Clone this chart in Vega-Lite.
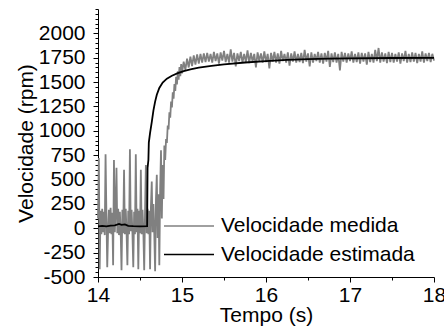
{
"$schema":"https://vega.github.io/schema/vega-lite/v6.json",
"width":336,"height":268,
"autosize":{"type":"none"},
"padding":{"left":98,"top":9,"right":10,"bottom":49},
"background":"white",
"config":{"view":{"stroke":null},"font":"Liberation Sans",
"axis":{"grid":false,"domainColor":"black","tickColor":"black","labelColor":"black","titleColor":"black","titleFontWeight":"normal","labelFontSize":21,"titleFontSize":21,"labelFont":"Liberation Sans","titleFont":"Liberation Sans","labelFlush":false,"labelOverlap":false,"domainWidth":1,"tickWidth":1}},
"layer":[
{"data":{"name":"medida"},"mark":{"type":"line","strokeWidth":1.8},
"encoding":{
"x":{"field":"t","type":"quantitative","scale":{"domain":[14,18],"nice":false,"zero":false},
"axis":{"title":"Tempo (s)","tickCount":100,"values":[14,14.5,15,15.5,16,16.5,17,17.5,18],"labelExpr":"datum.value % 1 === 0 ? '' + datum.value : ''","tickSize":{"condition":{"test":"datum.value % 1 === 0","value":5},"value":3},"labelPadding":2,"titlePadding":-1,"labelOverlap":false,"labelFlush":false}},
"y":{"field":"v","type":"quantitative","scale":{"domain":[-500,2250],"nice":false,"zero":false},
"axis":{"title":"Velocidade (rpm)","tickCount":100,"values":[-500,-450,-400,-350,-300,-250,-200,-150,-100,-50,0,50,100,150,200,250,300,350,400,450,500,550,600,650,700,750,800,850,900,950,1000,1050,1100,1150,1200,1250,1300,1350,1400,1450,1500,1550,1600,1650,1700,1750,1800,1850,1900,1950,2000,2050,2100,2150,2200,2250],"labelExpr":"datum.value % 250 === 0 && datum.value <= 2000 ? '' + datum.value : ''","tickSize":{"condition":{"test":"datum.value % 250 === 0 && datum.value <= 2000","value":5},"value":3},"labelPadding":8,"titlePadding":2,"labelOverlap":false,"labelFlush":false,"labelBound":false}},
"color":{"datum":"Velocidade medida","type":"nominal","scale":{"domain":["Velocidade medida","Velocidade estimada"],"range":["#808080","#000000"]},
"legend":{"orient":"none","legendX":77.5,"legendY":203.5,"title":null,"symbolType":"M-2,0H2","symbolSize":625,"symbolStrokeWidth":1.5,"labelFontSize":21,"labelFont":"Liberation Sans","labelColor":"black","labelLimit":0,"rowPadding":4.5,"labelOffset":18.5,"padding":0}}}},
{"data":{"name":"estimada"},"mark":{"type":"line","strokeWidth":1.8},
"encoding":{
"x":{"field":"t","type":"quantitative"},
"y":{"field":"v","type":"quantitative"},
"color":{"datum":"Velocidade estimada","type":"nominal"}}}
],
"datasets":{
"estimada":[
{"t":14.00,"v":20},{"t":14.05,"v":25},{"t":14.10,"v":20},{"t":14.15,"v":28},{"t":14.20,"v":30},{"t":14.25,"v":45},{"t":14.28,"v":35},{"t":14.32,"v":40},{"t":14.36,"v":25},{"t":14.42,"v":22},{"t":14.50,"v":20},{"t":14.585,"v":22},{"t":14.59,"v":620},{"t":14.60,"v":700},{"t":14.605,"v":880},{"t":14.62,"v":980},{"t":14.64,"v":1090},{"t":14.66,"v":1210},{"t":14.68,"v":1300},{"t":14.70,"v":1370},{"t":14.73,"v":1440},{"t":14.77,"v":1495},{"t":14.82,"v":1535},{"t":14.88,"v":1565},{"t":14.95,"v":1592},{"t":15.02,"v":1612},{"t":15.10,"v":1630},{"t":15.20,"v":1648},{"t":15.35,"v":1666},{"t":15.50,"v":1682},{"t":15.75,"v":1701},{"t":16.00,"v":1716},{"t":16.25,"v":1727},{"t":16.50,"v":1735},{"t":16.75,"v":1740},{"t":17.00,"v":1743},{"t":17.50,"v":1747},{"t":18.00,"v":1749}
],
"medida":[
{"t":14.00,"v":100},{"t":14.01,"v":720},{"t":14.02,"v":-420},{"t":14.03,"v":180},{"t":14.04,"v":-60},{"t":14.05,"v":200},{"t":14.06,"v":-40},{"t":14.07,"v":170},{"t":14.08,"v":-70},{"t":14.09,"v":760},
{"t":14.10,"v":150},{"t":14.11,"v":-400},{"t":14.12,"v":-30},{"t":14.13,"v":190},{"t":14.14,"v":-50},{"t":14.15,"v":210},{"t":14.16,"v":-60},{"t":14.17,"v":160},{"t":14.18,"v":-380},{"t":14.19,"v":700},
{"t":14.20,"v":-40},{"t":14.21,"v":180},{"t":14.22,"v":620},{"t":14.23,"v":-50},{"t":14.24,"v":200},{"t":14.25,"v":-70},{"t":14.26,"v":170},{"t":14.27,"v":-30},{"t":14.28,"v":-430},{"t":14.29,"v":190},
{"t":14.30,"v":-50},{"t":14.31,"v":600},{"t":14.32,"v":-60},{"t":14.33,"v":200},{"t":14.34,"v":-40},{"t":14.35,"v":-380},{"t":14.36,"v":180},{"t":14.37,"v":-60},{"t":14.38,"v":810},{"t":14.39,"v":-30},
{"t":14.40,"v":190},{"t":14.41,"v":-50},{"t":14.42,"v":-400},{"t":14.43,"v":170},{"t":14.44,"v":-60},{"t":14.45,"v":760},{"t":14.46,"v":-40},{"t":14.47,"v":200},{"t":14.48,"v":-420},{"t":14.49,"v":180},
{"t":14.50,"v":-50},{"t":14.51,"v":600},{"t":14.52,"v":-60},{"t":14.53,"v":190},{"t":14.54,"v":-30},{"t":14.55,"v":-430},{"t":14.56,"v":170},{"t":14.57,"v":650},{"t":14.58,"v":-50},{"t":14.59,"v":200},
{"t":14.60,"v":-60},{"t":14.61,"v":180},{"t":14.62,"v":-420},{"t":14.63,"v":220},{"t":14.64,"v":480},{"t":14.65,"v":-40},{"t":14.66,"v":250},{"t":14.67,"v":-60},{"t":14.68,"v":-440},{"t":14.69,"v":300},
{"t":14.70,"v":550},{"t":14.71,"v":-100},{"t":14.72,"v":350},{"t":14.73,"v":-380},{"t":14.74,"v":400},{"t":14.75,"v":800},{"t":14.76,"v":100},{"t":14.77,"v":650},{"t":14.78,"v":300},{"t":14.79,"v":850},
{"t":14.80,"v":700},{"t":14.81,"v":915},{"t":14.82,"v":875},{"t":14.83,"v":1055},{"t":14.84,"v":1015},{"t":14.85,"v":1190},{"t":14.86,"v":1135},{"t":14.87,"v":1300},{"t":14.88,"v":1240},{"t":14.89,"v":1395},
{"t":14.90,"v":1330},{"t":14.91,"v":1480},{"t":14.92,"v":1410},{"t":14.93,"v":1555},{"t":14.94,"v":1475},{"t":14.95,"v":1610},{"t":14.96,"v":1525},{"t":14.97,"v":1655},{"t":14.98,"v":1560},{"t":14.99,"v":1685},
{"t":15.00,"v":1590},{"t":15.02,"v":1710},{"t":15.04,"v":1625},{"t":15.06,"v":1740},{"t":15.08,"v":1650},{"t":15.10,"v":1760},{"t":15.12,"v":1665},{"t":15.14,"v":1775},{"t":15.16,"v":1680},{"t":15.18,"v":1785},
{"t":15.20,"v":1690},{"t":15.22,"v":1790},{"t":15.24,"v":1700},{"t":15.26,"v":1795},{"t":15.28,"v":1705},
{"t":15.30,"v":1800},{"t":15.32,"v":1710},{"t":15.34,"v":1790},{"t":15.36,"v":1700},{"t":15.38,"v":1810},{"t":15.40,"v":1715},{"t":15.42,"v":1795},{"t":15.44,"v":1690},{"t":15.46,"v":1805},{"t":15.48,"v":1720},
{"t":15.50,"v":1820},{"t":15.52,"v":1705},{"t":15.54,"v":1790},{"t":15.56,"v":1700},{"t":15.58,"v":1835},{"t":15.60,"v":1710},{"t":15.62,"v":1800},{"t":15.64,"v":1660},{"t":15.66,"v":1795},{"t":15.68,"v":1715},
{"t":15.70,"v":1810},{"t":15.72,"v":1700},{"t":15.74,"v":1790},{"t":15.76,"v":1705},{"t":15.78,"v":1825},{"t":15.80,"v":1695},{"t":15.82,"v":1800},{"t":15.84,"v":1710},{"t":15.86,"v":1790},{"t":15.88,"v":1650},
{"t":15.90,"v":1805},{"t":15.92,"v":1715},{"t":15.94,"v":1795},{"t":15.96,"v":1700},{"t":15.98,"v":1815},{"t":16.00,"v":1705},{"t":16.02,"v":1790},{"t":16.04,"v":1640},{"t":16.06,"v":1800},{"t":16.08,"v":1710},
{"t":16.10,"v":1810},{"t":16.12,"v":1700},{"t":16.14,"v":1795},{"t":16.16,"v":1690},{"t":16.18,"v":1820},{"t":16.20,"v":1715},{"t":16.22,"v":1790},{"t":16.24,"v":1700},{"t":16.26,"v":1805},{"t":16.28,"v":1670},
{"t":16.30,"v":1795},{"t":16.32,"v":1710},{"t":16.34,"v":1815},{"t":16.36,"v":1700},{"t":16.38,"v":1790},{"t":16.40,"v":1705},{"t":16.42,"v":1800},{"t":16.44,"v":1695},{"t":16.46,"v":1830},{"t":16.48,"v":1710},
{"t":16.50,"v":1795},{"t":16.52,"v":1660},{"t":16.54,"v":1805},{"t":16.56,"v":1700},{"t":16.58,"v":1790},{"t":16.60,"v":1715},{"t":16.62,"v":1810},{"t":16.64,"v":1700},{"t":16.66,"v":1795},{"t":16.68,"v":1690},
{"t":16.70,"v":1800},{"t":16.72,"v":1710},{"t":16.74,"v":1820},{"t":16.76,"v":1655},{"t":16.78,"v":1795},{"t":16.80,"v":1705},{"t":16.82,"v":1805},{"t":16.84,"v":1700},{"t":16.86,"v":1790},{"t":16.88,"v":1620},
{"t":16.90,"v":1810},{"t":16.92,"v":1710},{"t":16.94,"v":1800},{"t":16.96,"v":1700},{"t":16.98,"v":1795},{"t":17.00,"v":1715},{"t":17.02,"v":1815},{"t":17.04,"v":1700},{"t":17.06,"v":1790},{"t":17.08,"v":1705},
{"t":17.10,"v":1805},{"t":17.12,"v":1690},{"t":17.14,"v":1800},{"t":17.16,"v":1710},{"t":17.18,"v":1795},{"t":17.20,"v":1680},{"t":17.22,"v":1810},{"t":17.24,"v":1705},{"t":17.26,"v":1790},{"t":17.28,"v":1700},
{"t":17.30,"v":1830},{"t":17.32,"v":1715},{"t":17.34,"v":1850},{"t":17.36,"v":1700},{"t":17.38,"v":1805},{"t":17.40,"v":1710},{"t":17.42,"v":1795},{"t":17.44,"v":1695},{"t":17.46,"v":1810},{"t":17.48,"v":1705},
{"t":17.50,"v":1800},{"t":17.52,"v":1700},{"t":17.54,"v":1790},{"t":17.56,"v":1710},{"t":17.58,"v":1805},{"t":17.60,"v":1690},{"t":17.62,"v":1795},{"t":17.64,"v":1715},{"t":17.66,"v":1820},{"t":17.68,"v":1700},
{"t":17.70,"v":1790},{"t":17.72,"v":1705},{"t":17.74,"v":1805},{"t":17.76,"v":1710},{"t":17.78,"v":1800},{"t":17.80,"v":1695},{"t":17.82,"v":1790},{"t":17.84,"v":1710},{"t":17.86,"v":1815},{"t":17.88,"v":1700},
{"t":17.90,"v":1795},{"t":17.92,"v":1715},{"t":17.94,"v":1800},{"t":17.96,"v":1705},{"t":17.98,"v":1790},{"t":18.00,"v":1720}
]
}
}
